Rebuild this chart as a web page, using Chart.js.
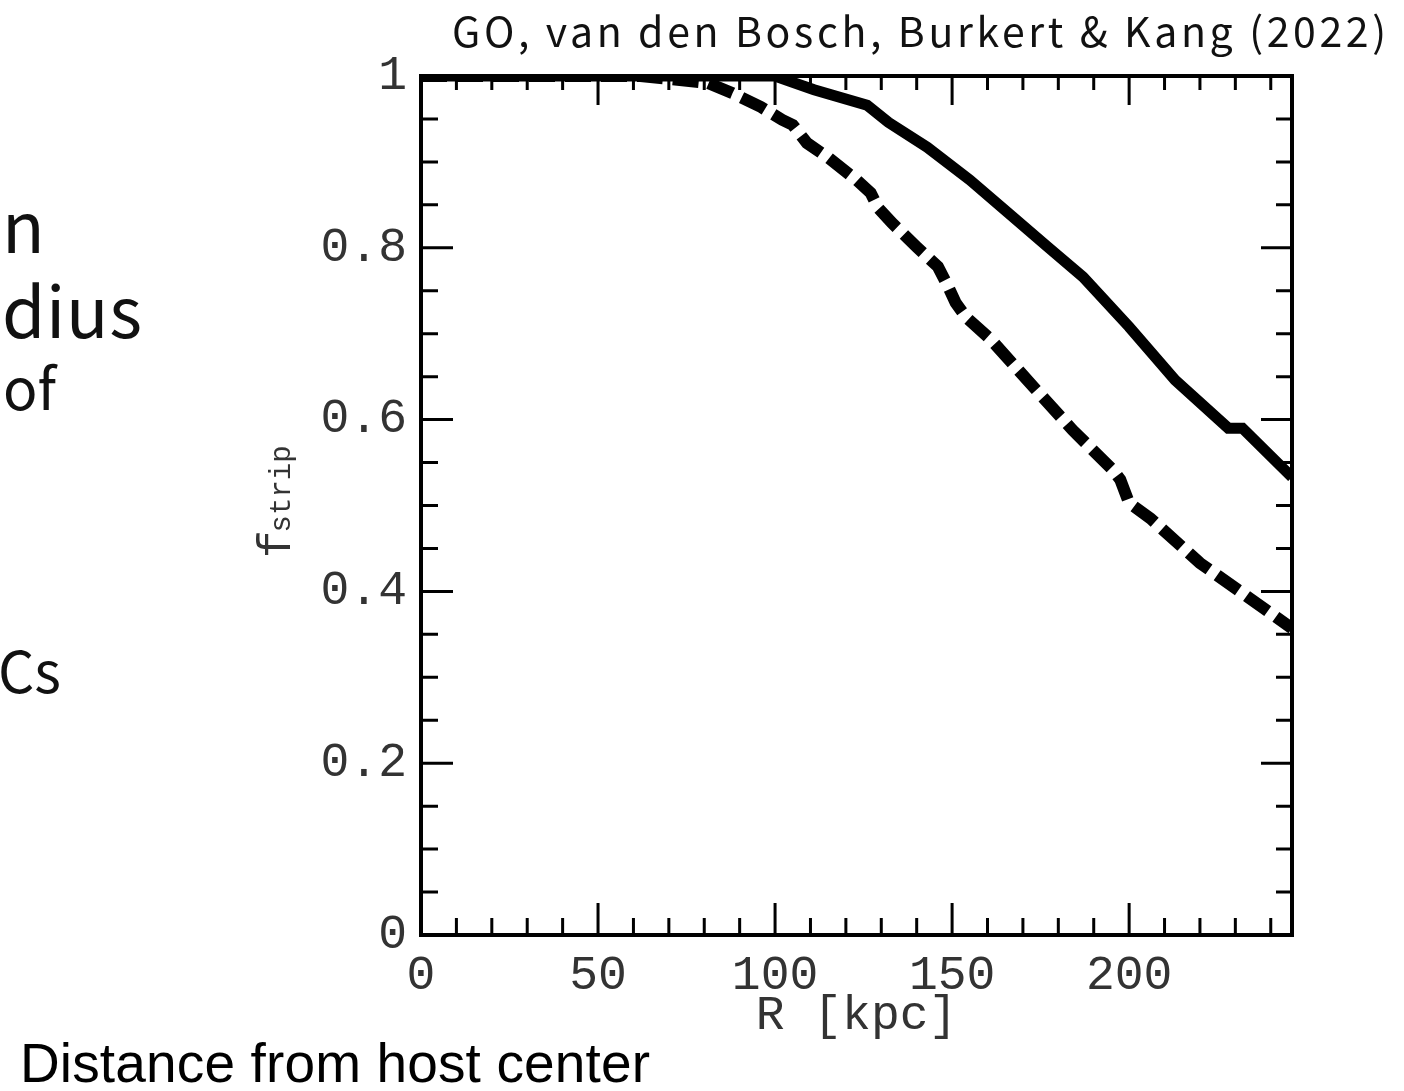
<!DOCTYPE html>
<html>
<head>
<meta charset="utf-8">
<script src="https://cdn.jsdelivr.net/npm/chart.js@4.4.1/dist/chart.umd.min.js"></script>
<style>
  html, body { margin: 0; padding: 0; background: #fff; }
  #wrap { position: relative; width: 1404px; height: 1091px; }
</style>
</head>
<body>
<div id="wrap"><canvas id="chart" width="1404" height="1091"></canvas></div>
<script>
// axis ranges / ticks
const xMin = 0;
const xMax = 246;
const yMin = 0;
const yMax = 1;
const xLabelStep = 50;
const yLabelStep = 0.2;

// solid curve
const solidR = [0, 100, 104, 111, 126, 132, 143, 155, 166, 177, 187, 200, 213, 228, 232, 246];
const solidF = [1, 1, 0.994, 0.984, 0.966, 0.946, 0.917, 0.879, 0.840, 0.801, 0.766, 0.708, 0.646, 0.590, 0.590, 0.533];

// dashed curve
const dashR = [0, 62, 81, 88, 96, 102, 105, 109, 115, 123, 127, 129, 133, 140, 146, 149, 151, 154, 161, 173, 184, 195.5, 197.5, 200, 206, 220, 232, 246];
const dashF = [1, 1, 0.992, 0.980, 0.964, 0.949, 0.943, 0.922, 0.905, 0.879, 0.864, 0.847, 0.829, 0.801, 0.778, 0.754, 0.736, 0.719, 0.693, 0.638, 0.588, 0.541, 0.530, 0.503, 0.485, 0.433, 0.398, 0.357];

const toPoints = (xs, ys) => xs.map((v, i) => ({ x: v, y: ys[i] }));

const MONO = '"Liberation Mono", "DejaVu Sans Mono", monospace';
const JP = '"Noto Sans CJK JP", "Noto Sans", sans-serif';
const LABEL_COLOR = "#333";

// draw text stretched with letter spacing to a target width
function spacedText(ctx, text, x, y, width) {
  ctx.letterSpacing = "0px";
  const w = ctx.measureText(text).width;
  const gap = (width - w) / (text.length - 1);
  ctx.letterSpacing = gap.toFixed(2) + "px";
  ctx.fillText(text, x, y);
  ctx.letterSpacing = "0px";
}

// inward ticks on all four sides + the box
const framePlugin = {
  id: "frame",
  afterDatasetsDraw(chart) {
    const { ctx, chartArea: a, scales } = chart;
    const x = scales.x;
    const y = scales.y;
    ctx.save();
    ctx.strokeStyle = "#000";
    ctx.lineWidth = 3;
    ctx.beginPath();
    for (let v = 10; v < xMax; v += 10) {
      const px = x.getPixelForValue(v);
      const major = v % 50 === 0;
      ctx.moveTo(px, a.bottom);
      ctx.lineTo(px, a.bottom - (major ? 32 : 17));
      ctx.moveTo(px, a.top);
      ctx.lineTo(px, a.top + (major ? 29 : 14));
    }
    for (let i = 1; i < 20; i++) {
      const py = y.getPixelForValue(i * 0.05);
      const major = i % 4 === 0;
      ctx.moveTo(a.left, py);
      ctx.lineTo(a.left + (major ? 32 : 17), py);
      ctx.moveTo(a.right, py);
      ctx.lineTo(a.right - (major ? 31 : 16), py);
    }
    ctx.stroke();
    ctx.lineWidth = 4;
    ctx.strokeRect(a.left, a.top, a.right - a.left, a.bottom - a.top);
    ctx.restore();
  },
  afterDraw(chart) {
    const ctx = chart.ctx;
    ctx.save();
    ctx.fillStyle = "#000";
    ctx.textBaseline = "alphabetic";
    ctx.textAlign = "left";

    // y axis title f_strip (rotated)
    ctx.save();
    ctx.translate(290, 558);
    ctx.rotate(-Math.PI / 2);
    ctx.fillStyle = LABEL_COLOR;
    ctx.font = "46px " + MONO;
    ctx.fillText("f", 0, 0);
    const fw = ctx.measureText("f").width;
    ctx.font = "29px " + MONO;
    ctx.fillText("strip", fw - 2, 0);
    ctx.restore();

    // citation
    ctx.fillStyle = "#111";
    ctx.font = "41px " + JP;
    spacedText(ctx, "GO, van den Bosch, Burkert & Kang (2022)", 452, 47, 934);

    // cut-off slide text on the left
    ctx.font = "70px " + JP;
    ctx.fillText("n", 2, 253);
    spacedText(ctx, "dius", 2, 338, 140);
    ctx.font = "57px " + JP;
    ctx.fillText("of", 3, 410);
    ctx.fillText("Cs", -2, 693);

    ctx.fillStyle = "#000";
    ctx.font = "55px \"Liberation Sans\", Arial, sans-serif";
    spacedText(ctx, "Distance from host center", 20, 1082, 630);
    ctx.restore();
  }
};

new Chart(document.getElementById("chart"), {
  type: "line",
  data: {
    datasets: [
      {
        label: "solid",
        data: toPoints(solidR, solidF),
        borderColor: "#000",
        borderWidth: 11,
        pointRadius: 0,
        tension: 0,
        fill: false,
        clip: 0,
      },
      {
        label: "dashed",
        data: toPoints(dashR, dashF),
        borderColor: "#000",
        borderWidth: 12,
        borderDash: [26, 10],
        borderCapStyle: "butt",
        pointRadius: 0,
        tension: 0,
        fill: false,
        clip: 0,
      },
    ],
  },
  options: {
    responsive: false,
    animation: false,
    events: [],
    layout: { padding: { left: 0, top: 76, right: 112, bottom: 0 } },
    plugins: {
      legend: { display: false },
      tooltip: { enabled: false },
    },
    scales: {
      x: {
        type: "linear",
        min: xMin,
        max: xMax,
        afterFit: (scale) => { scale.height = 156; },
        border: { display: false },
        grid: { display: false, drawTicks: false },
        ticks: {
          stepSize: xLabelStep,
          includeBounds: false,
          autoSkip: false,
          maxRotation: 0,
          padding: 12,
          color: LABEL_COLOR,
          font: { family: MONO, size: 48 },
        },
        title: {
          display: true,
          text: "R [kpc]",
          color: LABEL_COLOR,
          font: { family: MONO, size: 48 },
          padding: { top: 0, bottom: 46 },
        },
      },
      y: {
        type: "linear",
        min: yMin,
        max: yMax,
        afterFit: (scale) => { scale.width = 421; },
        border: { display: false },
        grid: { display: false, drawTicks: false },
        ticks: {
          stepSize: yLabelStep,
          includeBounds: false,
          autoSkip: false,
          padding: 14,
          color: LABEL_COLOR,
          font: { family: MONO, size: 48 },
          callback: (v) => (v === 0 || v === 1 ? String(v) : v.toFixed(1)),
        },
      },
    },
  },
  plugins: [framePlugin],
});
</script>
</body>
</html>
